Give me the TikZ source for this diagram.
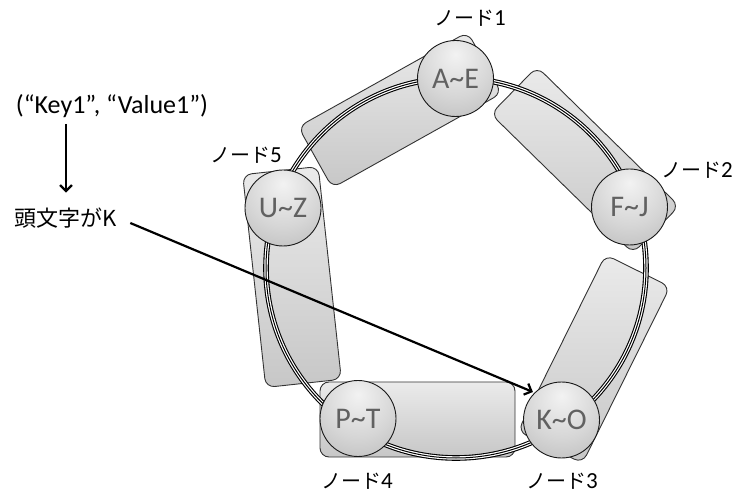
\documentclass[tikz,border=0pt]{standalone}
\usepackage{fontspec}
\setmainfont{Carlito}
\newfontfamily\jp{Noto Sans CJK JP}
\usetikzlibrary{arrows.meta}
\definecolor{ballA}{gray}{0.95}
\definecolor{ballB}{gray}{0.84}
\definecolor{ballC}{gray}{0.72}
\definecolor{ballD}{gray}{0.60}
\definecolor{segLight}{gray}{0.92}
\definecolor{segDark}{gray}{0.78}
\pgfdeclareradialshading{nodeball}{\pgfpoint{0bp}{16bp}}{color(0bp)=(ballA); color(24bp)=(ballB); color(46bp)=(ballC); color(66bp)=(ballD); color(100bp)=(ballD)}
\begin{document}
\begin{tikzpicture}[x=1pt,y=-1pt,
  seg/.style={draw=black!80, line width=0.9pt, rounded corners=9pt, inner sep=0pt,
    top color=segLight, bottom color=segDark},
  ball/.style={circle, draw=black!90, line width=0.9pt, minimum size=76pt, inner sep=0pt,
    shading=nodeball, text=black!62, font=\fontsize{30}{30}\selectfont},
  lbl/.style={inner sep=0pt, font=\fontsize{23}{23}\selectfont},
  arr/.style={line width=2.2pt, -{Straight Barb[length=6pt,width=12pt]}}
]
\useasboundingbox (0,0) rectangle (734,494);
% segments
\node[seg, rotate=29.2, minimum width=194pt, minimum height=70pt] (s1) at (400,110) {};
\node[seg, rotate=-44.4, minimum width=199pt, minimum height=66pt] (s2) at (585,160) {};
\node[seg, rotate=-116.4, minimum width=197pt, minimum height=72pt] (s3) at (594,359) {};
\node[seg, rotate=180, minimum width=195pt, minimum height=75pt] (s4) at (417.5,419.5) {};
\node[seg, rotate=96.2, minimum width=214pt, minimum height=76pt] (s5) at (292,277) {};
% ring
\coordinate (rc) at (456,268);
\draw[line width=5.6pt, black] (rc) circle[radius=190];
\draw[line width=3.4pt, white] (rc) circle[radius=190];
\draw[line width=1pt, black] (rc) circle[radius=190];
% nodes
\node[ball] (n1) at (455.5,78.5) {A\textasciitilde E};
\node[ball] (n2) at (629.5,207) {F\textasciitilde J};
\node[ball] (n3) at (561.5,420) {K\textasciitilde O};
\node[ball] (n4) at (358,418.5) {P\textasciitilde T};
\node[ball] (n5) at (283,208) {U\textasciitilde Z};
% labels
\node[lbl] (l1) at (470,18) {{\jp\fontsize{20}{20}\selectfont ノード}1};
\node[lbl] (l2) at (697,170) {{\jp\fontsize{20}{20}\selectfont ノード}2};
\node[lbl] (l3) at (562,481) {{\jp\fontsize{20}{20}\selectfont ノード}3};
\node[lbl] (l4) at (357,481) {{\jp\fontsize{20}{20}\selectfont ノード}4};
\node[lbl] (l5) at (246,155) {{\jp\fontsize{20}{20}\selectfont ノード}5};
% left side
\node[inner sep=0pt, font=\fontsize{26}{26}\selectfont] (key) at (112,106) {(“Key1”, “Value1”)};
\node[inner sep=0pt, font=\jp\fontsize{22}{22}\selectfont] (head) at (66,218) {頭文字がK};
\draw[arr, shorten <=6pt, shorten >=15pt] (key.south -| head.north) -- (head.north);
\draw[arr, shorten >=31pt] ([xshift=13pt,yshift=-5pt]head.east) -- ([yshift=16pt]n3.center);
\end{tikzpicture}
\end{document}
